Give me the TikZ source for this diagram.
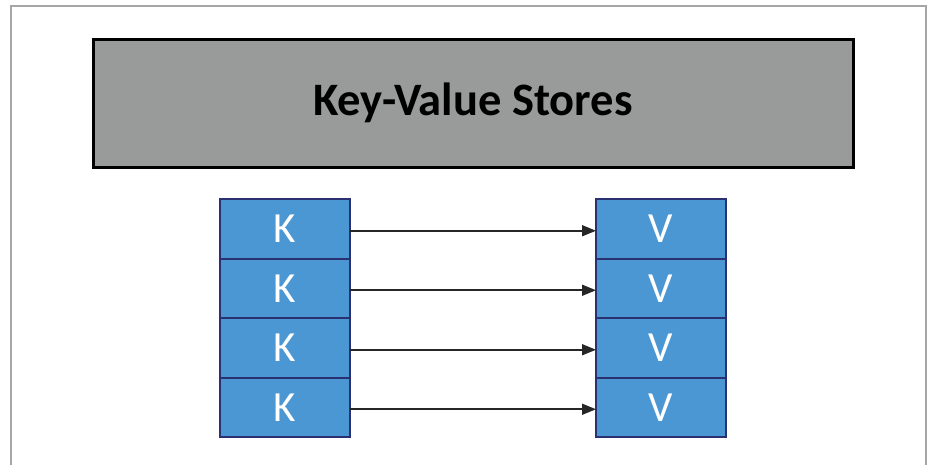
\documentclass[tikz,border=0pt]{standalone}
\usepackage{fontspec}
\setmainfont{Carlito}
\usetikzlibrary{positioning,arrows.meta}
\definecolor{cellblue}{HTML}{4A97D3}
\definecolor{cellborder}{HTML}{2B3170}
\definecolor{titlegray}{HTML}{999B9B}
\definecolor{framegray}{HTML}{A6A6A6}

\begin{document}
\begin{tikzpicture}[x=1pt,y=-1pt,
  cell/.style={draw=cellborder, line width=2pt, fill=cellblue, text=white,
    minimum width=130pt, minimum height=59.5pt, inner sep=0pt, outer sep=0pt,
    font=\fontsize{43}{43}\selectfont},
  link/.style={-{Triangle[length=14pt,width=11pt]}, line width=1.6pt, draw=black!85}]
\useasboundingbox (0,0) rectangle (930,464);
% outer frame
\draw [framegray, line width=2pt] (11,470) -- (11,6) -- (926,6) -- (926,470);
\node (title) [draw=black, line width=3pt, fill=titlegray, minimum width=760pt,
  minimum height=128pt, font=\bfseries\fontsize{46.5}{46.5}\selectfont]
  at (473,103) {Key-Value Stores};
% key and value columns
\node (k1) [cell] at (285,228.75) {K};
\node (v1) [cell] at (661,228.75) {V};
\foreach \i/\j in {2/1,3/2,4/3} {
  \node (k\i) [cell, below=0pt of k\j] {K};
  \node (v\i) [cell, below=0pt of v\j] {V};
}
\foreach \i in {1,...,4}
  \draw [link] ([yshift=-2pt]k\i.east) -- ([yshift=-2pt]v\i.west);
\end{tikzpicture}
\end{document}
